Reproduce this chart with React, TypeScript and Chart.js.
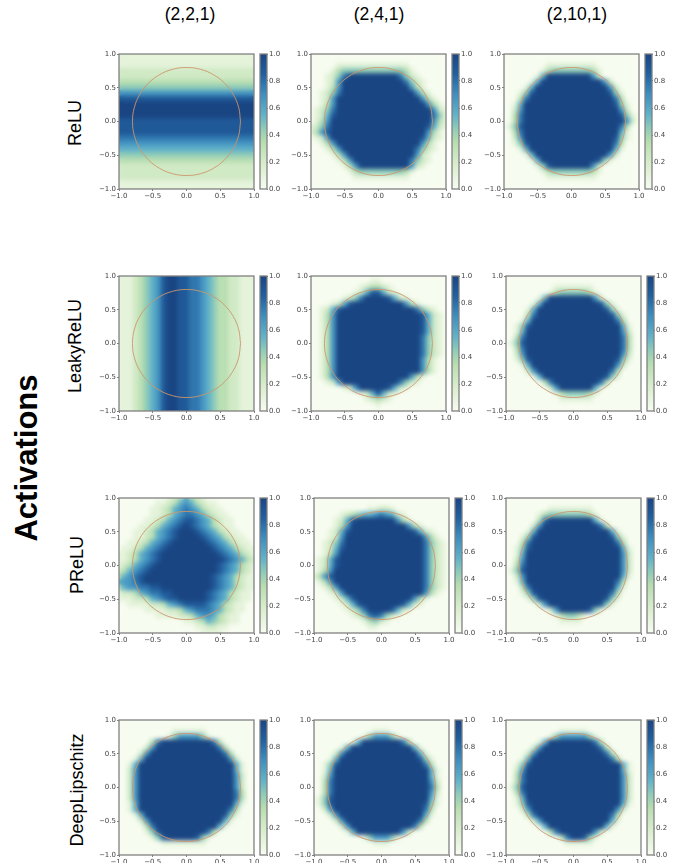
import React, { useEffect, useRef } from "react";
import { Chart, registerables } from "chart.js";

Chart.register(...registerables);

// ---- data: colour level per cell (0 = 0.0 ... 9 = 1.0); rows run from y=1 to y=-1
const gridAxis = [-1, -0.917, -0.833, -0.75, -0.667, -0.583, -0.5, -0.417, -0.333, -0.25, -0.167, -0.083, 0, 0.083, 0.167, 0.25, 0.333, 0.417, 0.5, 0.583, 0.667, 0.75, 0.833, 0.917, 1];
const axisTicks = [-1, -0.5, 0, 0.5, 1];
const colorbarTicks = [0, 0.2, 0.4, 0.6, 0.8, 1];
const colorbarRange = [0, 1];
const colorStops = [0, 0.2, 0.35, 0.45, 0.55, 0.7, 0.85, 1];
const colorValues = ["#f7fcf0", "#d6ecca", "#b7ddb0", "#8ecbb8", "#62b2c9", "#3f8fc0", "#22609f", "#1a4583"];
const circleX = [0.8, 0.773, 0.693, 0.566, 0.4, 0.207, 0, -0.207, -0.4, -0.566, -0.693, -0.773, -0.8, -0.773, -0.693, -0.566, -0.4, -0.207, 0, 0.207, 0.4, 0.566, 0.693, 0.773, 0.8];
const circleY = [0, 0.207, 0.4, 0.566, 0.693, 0.773, 0.8, 0.773, 0.693, 0.566, 0.4, 0.207, 0, -0.207, -0.4, -0.566, -0.693, -0.773, -0.8, -0.773, -0.693, -0.566, -0.4, -0.207, 0];
const columnTitles = ["(2,2,1)", "(2,4,1)", "(2,10,1)"];
const rowTitles = ["ReLU", "LeakyReLU", "PReLU", "DeepLipschitz"];
const sideTitle = "Activations";

const relu221 = [
  "1111111111111111111111111",
  "1111111111111111111111111",
  "1111111111111111111111111",
  "2222222222222222222222222",
  "2222222222222222222222222",
  "3333333333333333333333333",
  "4444444444444444444444444",
  "6666666666666666666666666",
  "8888888888888888888888888",
  "9999999999999999999999999",
  "9999999999999999999999999",
  "9999999999999999999999999",
  "8888888888888888888888888",
  "8888888888888888888888888",
  "8888888888888888888888888",
  "7777777777777777777777777",
  "6666666666666666666666666",
  "5555555555555555555555555",
  "4444444444444444444444444",
  "3333333333333333333333333",
  "2222222222222222222222222",
  "2222222222222222222222222",
  "2222222222222222222222222",
  "1111111111111111111111111",
  "1111111111111111111111111",
];
const relu241 = [
  "0000000000000000000000000",
  "0000000000000000000000000",
  "0000011111111111110000000",
  "0000134444444444431000000",
  "000 12479 9999999 97421 00000",
  "00 01269 999999999 97421 0000",
  "00 01369 9999999999 96310 000",
  "00 12479 99999999999 96310 00",
  "0 01269 9999999999999 96310 0",
  "0 01369 99999999999999 96310",
  "0 12479 999999999999999 9621",
  "012589 9999999999999999 741",
  "01369 9999999999999999 9631",
  "12479 999999999999999 98521",
  "13689 999999999999999 96310",
  "01269 99999999999999 98521 0",
  "0 01369 9999999999999 96310 0",
  "00 01369 99999999999 97421 00",
  "000 01369 9999999999 96210 00",
  "0000 01369 99999999 97421 000",
  "00000 01369 9999999 96210 000",
  "0000000134444444431000000",
  "0000000011111111110000000",
  "0000000000000000000000000",
  "0000000000000000000000000",
];
const relu2101 = [
  "0000000000000000000000000",
  "0000000000000000000000000",
  "0000000011111111100000000",
  "0000000134444444310000000",
  "000000 1599 99999 9620 000000",
  "00000 1599 99999999 9620 0000",
  "0000 1599 9999999999 9620 000",
  "000 1489 99999999999 9841 000",
  "00 0379 9999999999999 9730 00",
  "00 1599 9999999999999 9841 00",
  "0 0269 999999999999999 9620 0",
  "0 0379 999999999999999 9841 0",
  "0 0379 9999999999999999 9620",
  "0 1489 999999999999999 9730 0",
  "0 0379 99999999999999 9951 00",
  "0 0269 99999999999999 9841 00",
  "00 1489 9999999999999 9730 00",
  "000 1599 99999999999 9951 000",
  "0000 1599 9999999999 9620 000",
  "00000 1599 9999999 9841 00000",
  "000000 1489 99999 9620 000000",
  "0000000134444444310000000",
  "0000000011111111100000000",
  "0000000000000000000000000",
  "0000000000000000000000000",
];
const leaky221 = [
  "1112345689988776543322111",
  "1112345689988776543322111",
  "1112345689988776543322111",
  "1112345689988776543322111",
  "1112345689988776543322111",
  "1112345689988776543322111",
  "1112345689988776543322111",
  "1112345689988776543322111",
  "1112345689988776543322111",
  "1112345689988776543322111",
  "1112345689988776543322111",
  "1112345689988776543322111",
  "1112345689988776543322111",
  "1112345689988776543322111",
  "1112345689988776543322111",
  "1112345689988776543322111",
  "1112345689988776543322111",
  "1112345689988776543322111",
  "1112345689988776543322111",
  "1112345689988776543322111",
  "1112345689988776543322111",
  "1112345689988776543322111",
  "1112345689988776543322111",
  "1112345689988776543322111",
  "1112345689988776543322111",
];
const leaky241 = [
  "0000000000000000000000000",
  "0000000000011000000000000",
  "0000000001233210000000000",
  "0000000012588521000000000",
  "000000 12479 99 98521 0000000",
  "0000 12589 9999999 96310 0000",
  "00 12589 99999999999 97421 00",
  "0 01369 9999999999999 98521 0",
  "0 01369 9999999999999 98521 0",
  "0 01369 9999999999999 98521 0",
  "0 01369 9999999999999 98521 0",
  "0 01369 9999999999999 97421 0",
  "0 01369 9999999999999 97421 0",
  "0 01369 9999999999999 97421 0",
  "0 01369 9999999999999 97421 0",
  "0 01369 9999999999999 96310 0",
  "0 01369 9999999999999 96310 0",
  "0 01369 9999999999999 96310 0",
  "0 01369 99999999999 96310 000",
  "00 01269 99999999 97421 00000",
  "00000 01269 999 98521 0000000",
  "0000000001258521000000000",
  "0000000000123210000000000",
  "0000000000001000000000000",
  "0000000000000000000000000",
];
const leaky2101 = [
  "0000000000000000000000000",
  "0000000000000000000000000",
  "0000000001111111000000000",
  "0000000013444443100000000",
  "000000 1599 99999 9620 000000",
  "00000 1599 9999999 9841 00000",
  "0000 1599 999999999 9841 0000",
  "000 0379 99999999999 9841 000",
  "000 1599 999999999999 9730 00",
  "00 1489 9999999999999 9951 00",
  "00 1599 99999999999999 9620 0",
  "0 0379 999999999999999 9730 0",
  "0 1489 999999999999999 9730 0",
  "0 0379 999999999999999 9730 0",
  "0 0269 999999999999999 9620 0",
  "00 1489 9999999999999 9841 00",
  "000 1599 999999999999 9620 00",
  "000 0269 99999999999 9730 000",
  "00000 1599 99999999 9841 0000",
  "000000 0379 999999 9730 00000",
  "0000000 0269 999 9951 0000000",
  "0000000001344443100000000",
  "0000000000111111000000000",
  "0000000000000000000000000",
  "0000000000000000000000000",
];
const prelu221 = [
  "0000000001235321000000000",
  "0000000112356532110000000",
  "0000001123567653211000000",
  "0000001123567765321100000",
  "0000011235678876532110000",
  "0000112356789876532110000",
  "0001123567899987653211000",
  "0001123567899998765321100",
  "0011235678999999876532110",
  "0112356789999999987653211",
  "1123567899999999998765321",
  "1123567899999999999876532",
  "1235678999999999998765321",
  "2356789999999999998765321",
  "3567899999999999987653211",
  "5667899999999999987653211",
  "3566778899999999987653211",
  "1223567788999999876532110",
  "1112235678899999876532110",
  "0011112235678888765321100",
  "0000011112235677765321100",
  "0000000111122356653211000",
  "0000000000001123543211000",
  "0000000000000011221100000",
  "0000000000000001111000000",
];
const prelu241 = [
  "0000000000000000000000000",
  "0000000000000000000000000",
  "0000000000112210000000000",
  "0000012345567652100000000",
  "0000 12589 99999 96310 000000",
  "000 01369 99999999 96310 0000",
  "000 12589 999999999 98521 000",
  "00 01269 999999999999 96310 0",
  "00 12479 999999999999 97421 0",
  "00 12589 999999999999 97421 0",
  "0 01369 9999999999999 97421 0",
  "0 12589 9999999999999 97421 0",
  "0 12589 9999999999999 97421 0",
  "01369 99999999999999 97421 0",
  "13689 99999999999999 97421 0",
  "01369 99999999999999 97421 0",
  "0 01369 9999999999999 97421 0",
  "00 01269 999999999999 96310 0",
  "0000 12589 99999999 96310 000",
  "00000 12589 99999 98521 00000",
  "000000 12479 99 98521 0000000",
  "0000000124787421000000000",
  "0000000001342100000000000",
  "0000000000110000000000000",
  "0000000000000000000000000",
];
const prelu2101 = [
  "0000000000000000000000000",
  "0000000000000000000000000",
  "0000000011111111000000000",
  "0000001344444443100000000",
  "00000 0379 99999 9951 0000000",
  "0000 0269 99999999 9730 00000",
  "0000 1599 999999999 9951 0000",
  "000 1489 99999999999 9841 000",
  "00 0379 9999999999999 9730 00",
  "00 1489 9999999999999 9951 00",
  "00 1599 99999999999999 9620 0",
  "0 0269 999999999999999 9620 0",
  "0 0379 999999999999999 9620 0",
  "0 1489 999999999999999 9620 0",
  "0 0269 99999999999999 9951 00",
  "00 1599 9999999999999 9730 00",
  "00 0379 999999999999 9951 000",
  "000 1489 99999999999 9730 000",
  "0000 1489 999999999 9841 0000",
  "00000 0269 9999999 9841 00000",
  "0000000 0269 999 9841 0000000",
  "0000000001344310000000000",
  "0000000000111100000000000",
  "0000000000000000000000000",
  "0000000000000000000000000",
];
const deep221 = [
  "0000000000000000000000000",
  "0000000000000000000000000",
  "0000000000111111000000000",
  "0000000001466664100000000",
  "00000 0379 9999999 9730 00000",
  "0000 0269 999999999 9730 0000",
  "000 0269 99999999999 9730 000",
  "000 1599 999999999999 9620 00",
  "00 1599 9999999999999 9951 00",
  "0 0269 99999999999999 9951 00",
  "0 0269 999999999999999 9620 0",
  "0 0269 999999999999999 9620 0",
  "0 0269 999999999999999 9620 0",
  "0 0269 999999999999999 9730 0",
  "0 0269 999999999999999 9730 0",
  "00 1599 9999999999999 9951 00",
  "00 1599 9999999999999 9730 00",
  "000 1599 99999999999 9841 000",
  "000 0269 9999999999 9951 0000",
  "0000 0379 99999999 9951 00000",
  "00000 1489 999999 9730 000000",
  "000000 1489 999 9841 00000000",
  "0000000011111111000000000",
  "0000000000000000000000000",
  "0000000000000000000000000",
];
const deep241 = [
  "0000000000000000000000000",
  "0000000000000000000000000",
  "0000000000011100000000000",
  "0000000001466641000000000",
  "0000000 1599 9999 9730 000000",
  "00000 1599 9999999 9951 00000",
  "000 0269 9999999999 9951 0000",
  "000 1599 99999999999 9841 000",
  "00 1489 9999999999999 9730 00",
  "00 1599 9999999999999 9951 00",
  "0 0269 99999999999999 9951 00",
  "0 0379 999999999999999 9620 0",
  "0 0379 999999999999999 9730 0",
  "0 0379 999999999999999 9620 0",
  "0 1489 99999999999999 9951 00",
  "0 1489 99999999999999 9841 00",
  "0 0269 99999999999999 9730 00",
  "00 0269 999999999999 9951 000",
  "000 0269 99999999999 9730 000",
  "0000 0269 999999999 9730 0000",
  "000000 1599 99999 9620 000000",
  "0000000001466641000000000",
  "0000000000011100000000000",
  "0000000000000000000000000",
  "0000000000000000000000000",
];
const deep2101 = [
  "0000000000000000000000000",
  "0000000000000000000000000",
  "0000000000111110000000000",
  "0000000014666664100000000",
  "000000 1599 99999 9730 000000",
  "0000 0269 99999999 9730 00000",
  "000 0269 9999999999 9730 0000",
  "000 1599 99999999999 9730 000",
  "00 1489 9999999999999 9951 00",
  "0 0269 99999999999999 9951 00",
  "0 0379 999999999999999 9620 0",
  "0 0379 999999999999999 9620 0",
  "0 1489 999999999999999 9620 0",
  "0 0379 999999999999999 9620 0",
  "00 1599 99999999999999 9620 0",
  "00 1489 9999999999999 9951 00",
  "00 0269 9999999999999 9620 00",
  "000 0379 99999999999 9730 000",
  "0000 0269 999999999 9951 0000",
  "000000 1599 999999 9951 00000",
  "0000000 0379 9999 9620 000000",
  "000000000 0379 9841 00000000",
  "0000000000011111000000000",
  "0000000000000000000000000",
  "0000000000000000000000000",
];

const fields = [
  [relu221, relu241, relu2101],
  [leaky221, leaky241, leaky2101],
  [prelu221, prelu241, prelu2101],
  [deep221, deep241, deep2101],
];

// ---- layout (pixels)
const plotSize = 135;
const plotTops = [54, 276, 498, 720];
const plotLefts = [
  [119, 311, 504],
  [119, 311, 506],
  [119, 314, 506],
  [119, 314, 506],
];
const titleCentersX = [190, 379, 577];
const titleCenterY = 14;
const rowLabelCenters = [
  [75, 123],
  [75, 346],
  [77, 565],
  [77, 790],
];
const tickFont = { family: "'DejaVu Sans'", size: 7 };
const tickColor = "#444";
const frameColor = "#808080";

function hexToRgb(h: string) {
  return [parseInt(h.slice(1, 3), 16), parseInt(h.slice(3, 5), 16), parseInt(h.slice(5, 7), 16)];
}
function colormap(v: number) {
  let i = 0;
  while (i < colorStops.length - 2 && v > colorStops[i + 1]) i++;
  const t = (v - colorStops[i]) / (colorStops[i + 1] - colorStops[i]);
  const a = hexToRgb(colorValues[i]);
  const b = hexToRgb(colorValues[i + 1]);
  return `rgb(${a.map((c, k) => Math.round(c + (b[k] - c) * t)).join(",")})`;
}
function fmt(v: number) {
  return (v < 0 ? "\u2212" : "") + Math.abs(v).toFixed(1);
}

const framePlugin = {
  id: "frame",
  beforeDatasetsDraw(chart: any) {
    const { ctx, chartArea: a } = chart;
    if (chart.config.type !== "scatter") return;
    ctx.save();
    ctx.fillStyle = colorValues[0];
    ctx.fillRect(a.left, a.top, a.width, a.height);
    ctx.restore();
  },
  // soften the cell field once it is painted, before the circle goes on top of it
  afterDatasetDraw(chart: any, args: any) {
    if (chart.config.type !== "scatter" || args.index !== 0) return;
    const { ctx, chartArea: a, canvas } = chart;
    const r = chart.currentDevicePixelRatio || 1;
    ctx.save();
    ctx.beginPath();
    ctx.rect(a.left, a.top, a.width, a.height);
    ctx.clip();
    ctx.filter = "blur(2px)";
    ctx.drawImage(canvas, a.left * r, a.top * r, a.width * r, a.height * r, a.left, a.top, a.width, a.height);
    ctx.restore();
  },
  afterDraw(chart: any) {
    const { ctx, chartArea: a } = chart;
    ctx.save();
    ctx.strokeStyle = frameColor;
    ctx.lineWidth = 1.3;
    ctx.strokeRect(a.left, a.top, a.width, a.height);
    ctx.restore();
  },
};

function Panel({ left, top, field }: { left: number; top: number; field: string[] }) {
  const ref = useRef<HTMLCanvasElement>(null);
  useEffect(() => {
    const cells: { x: number; y: number }[] = [];
    const colors: string[] = [];
    field.forEach((row, r) => {
      row.replace(/ /g, "").split("").forEach((ch, c) => {
        cells.push({ x: gridAxis[c], y: gridAxis[24 - r] });
        colors.push(colormap(Number(ch) / 9));
      });
    });
    const axis = (afterFit: (s: any) => void) => ({
      type: "linear" as const,
      min: -1,
      max: 1,
      afterFit,
      afterBuildTicks: (s: any) => {
        s.ticks = axisTicks.map((value) => ({ value }));
      },
      grid: { display: true, drawOnChartArea: false, drawTicks: true, tickLength: 2, color: frameColor },
      border: { display: false },
      ticks: {
        autoSkip: false,
        maxRotation: 0,
        padding: 1,
        color: tickColor,
        font: tickFont,
        callback: (v: any) => fmt(Number(v)),
      },
    });
    const chart = new Chart(ref.current!, {
      type: "scatter",
      data: {
        datasets: [
          {
            data: cells,
            order: 2,
            showLine: false,
            pointStyle: "rect",
            pointRadius: 4.6,
            pointBorderWidth: 0,
            pointBackgroundColor: colors,
            clip: 0,
          },
          {
            data: circleX.map((x, i) => ({ x, y: circleY[i] })),
            order: 1,
            showLine: true,
            tension: 0.4,
            pointRadius: 0,
            borderWidth: 1,
            borderColor: "rgba(205,150,105,0.9)",
            clip: 0,
          },
        ],
      } as any,
      options: {
        animation: false,
        responsive: false,
        events: [],
        layout: { padding: { top: 6, right: 8 } },
        plugins: { legend: { display: false }, tooltip: { enabled: false } },
        scales: {
          x: axis((s) => {
            s.height = 16;
          }),
          y: axis((s) => {
            s.width = 30;
          }),
        },
      } as any,
      plugins: [framePlugin],
    });
    return () => chart.destroy();
  }, [field]);
  return (
    <canvas
      ref={ref}
      width={plotSize + 38}
      height={plotSize + 22}
      style={{ position: "absolute", left: left - 30, top: top - 6, width: plotSize + 38, height: plotSize + 22 }}
    />
  );
}

function Colorbar({ left, top }: { left: number; top: number }) {
  const ref = useRef<HTMLCanvasElement>(null);
  useEffect(() => {
    const chart = new Chart(ref.current!, {
      type: "bar",
      data: {
        labels: [""],
        datasets: [
          {
            data: [colorbarRange],
            barPercentage: 1,
            categoryPercentage: 1,
            borderWidth: 0,
            backgroundColor: (c: any) => {
              const a = c.chart.chartArea;
              if (!a) return colorValues[0];
              const g = c.chart.ctx.createLinearGradient(0, a.bottom, 0, a.top);
              colorStops.forEach((s, i) => g.addColorStop(s, colorValues[i]));
              return g;
            },
          },
        ],
      } as any,
      options: {
        animation: false,
        responsive: false,
        events: [],
        layout: { padding: { top: 6, bottom: 6, left: 1 } },
        plugins: { legend: { display: false }, tooltip: { enabled: false } },
        scales: {
          x: { display: false },
          y: {
            position: "right",
            min: 0,
            max: 1,
            afterFit: (s: any) => {
              s.width = 20;
            },
            afterBuildTicks: (s: any) => {
              s.ticks = colorbarTicks.map((value) => ({ value }));
            },
            grid: { display: true, drawOnChartArea: false, drawTicks: true, tickLength: 1, color: frameColor },
            border: { display: false },
            ticks: {
              padding: 1,
              color: tickColor,
              font: tickFont,
              autoSkip: false,
              callback: (v: any) => fmt(Number(v)),
            },
          },
        },
      } as any,
      plugins: [framePlugin],
    });
    return () => chart.destroy();
  }, []);
  return (
    <canvas
      ref={ref}
      width={28}
      height={plotSize + 12}
      style={{ position: "absolute", left: left - 1, top: top - 6, width: 28, height: plotSize + 12 }}
    />
  );
}

const textBase: React.CSSProperties = {
  position: "absolute",
  whiteSpace: "nowrap",
  fontFamily: "'Liberation Sans', Arial, sans-serif",
  color: "#000",
};

export default function App() {
  return (
    <div style={{ position: "absolute", left: 0, top: 0, width: 688, height: 863, background: "#fff", overflow: "hidden" }}>
      {columnTitles.map((t, i) => (
        <div
          key={t}
          style={{ ...textBase, left: titleCentersX[i], top: titleCenterY, fontSize: 17.5, transform: "translate(-50%,-50%)" }}
        >
          {t}
        </div>
      ))}
      {rowTitles.map((t, i) => (
        <div
          key={t}
          style={{
            ...textBase,
            left: rowLabelCenters[i][0],
            top: rowLabelCenters[i][1],
            fontSize: 18,
            transform: "translate(-50%,-50%) rotate(-90deg)",
          }}
        >
          {t}
        </div>
      ))}
      <div
        style={{
          ...textBase,
          left: 27,
          top: 458,
          fontSize: 31,
          fontWeight: 700,
          transform: "translate(-50%,-50%) rotate(-90deg)",
        }}
      >
        {sideTitle}
      </div>
      {fields.map((row, r) =>
        row.map((field, c) => (
          <React.Fragment key={`${r}-${c}`}>
            <Panel left={plotLefts[r][c]} top={plotTops[r]} field={field} />
            <Colorbar left={plotLefts[r][c] + plotSize + 6} top={plotTops[r]} />
          </React.Fragment>
        ))
      )}
    </div>
  );
}
